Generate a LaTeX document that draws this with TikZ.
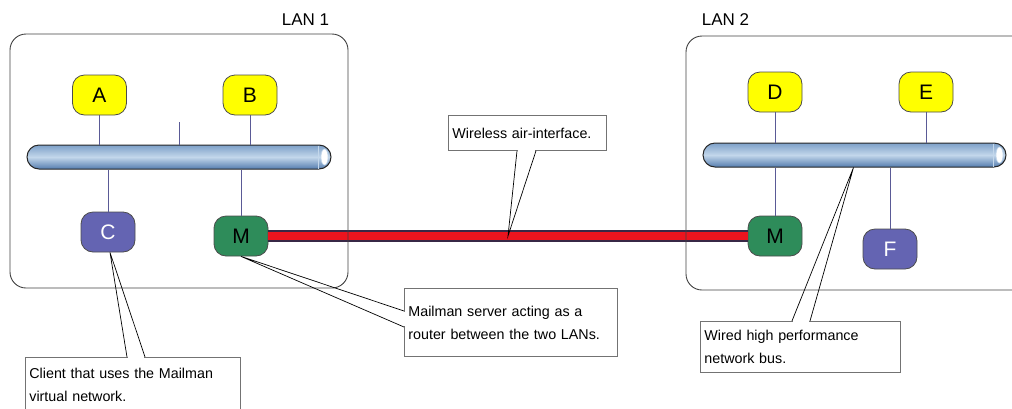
\documentclass[tikz,border=0pt]{standalone}
\usepackage{fontspec}
\setmainfont{Liberation Sans}
\usetikzlibrary{calc}

\definecolor{hostyellow}{RGB}{255,255,0}
\definecolor{clientblue}{RGB}{100,100,178}
\definecolor{mailgreen}{RGB}{46,140,90}
\definecolor{stubline}{RGB}{90,90,150}
\definecolor{linkred}{RGB}{235,20,30}
\definecolor{linkedge}{RGB}{55,40,70}
\definecolor{bustop}{RGB}{125,160,200}
\definecolor{busmid}{RGB}{195,215,235}
\definecolor{busbot}{RGB}{85,125,175}

\begin{document}
\begin{tikzpicture}[x=1pt,y=-1pt,
    lan/.style={draw=black!75,line width=0.9pt,rounded corners=16pt,minimum height=254pt,inner sep=0pt},
    lanlabel/.style={font=\fontsize{17}{17}\selectfont},
    host/.style={draw=black!70,line width=0.8pt,rounded corners=12pt,minimum width=54pt,minimum height=40pt,inner sep=0pt,font=\fontsize{21}{21}\selectfont},
    server/.style={host,fill=hostyellow},
    client/.style={host,fill=clientblue,text=white},
    mailman/.style={host,fill=mailgreen},
    bus/.style={draw=black!85,line width=1pt,rounded corners=12pt,minimum height=24pt,inner sep=0pt,top color=bustop,bottom color=busbot,middle color=busmid},
    stub/.style={stubline,line width=0.9pt},
    link/.style={draw=linkedge,line width=2.2pt,double=linkred,double distance=8pt},
    note/.style={draw=black!55,fill=white,line width=0.8pt,align=left,anchor=north west,inner xsep=4pt,inner ysep=0pt,font=\fontsize{14.3}{23}\selectfont},
    pointer/.style={black,line width=0.7pt}]
  \clip (0,0) rectangle (1012,408);

  % the two buses
  \node[bus,minimum width=304pt] (bus1) at (179,157) {};
  \node[bus,minimum width=303pt] (bus2) at (854.5,155) {};
  \foreach \b in {bus1,bus2} {
    \draw[busmid,line width=0.8pt] ($(\b.north east)+(-13,1)$) -- ($(\b.south east)+(-13,-1)$);
    \filldraw[fill=white,draw=busmid,line width=0.6pt] ($(\b.east)+(-7,0)$) ellipse (3.5 and 8);
  }

  % hosts
  \node[server]  (a)  at (99.5,95) {A};
  \node[server]  (b)  at (250,95)  {B};
  \node[client]  (c)  at (108,232) {C};
  \node[mailman] (m1) at (241,236) {M};
  \node[server]  (d)  at (775,92)  {D};
  \node[server]  (e)  at (926,92)  {E};
  \node[mailman] (m2) at (775,236) {M};
  \node[client]  (f)  at (890,249) {F};
  \coordinate (tick) at (179,122);

  \draw[stub] (a.south) -- (a.south |- bus1.north);
  \draw[stub] (b.south) -- (b.south |- bus1.north);
  \draw[stub] (tick) -- (tick |- bus1.north);
  \draw[stub] (c.north) -- (c.north |- bus1.south);
  \draw[stub] (m1.north) -- (m1.north |- bus1.south);
  \draw[stub] (d.south) -- (d.south |- bus2.north);
  \draw[stub] (e.south) -- (e.south |- bus2.north);
  \draw[stub] (m2.north) -- (m2.north |- bus2.south);
  \draw[stub] (f.north) -- (f.north |- bus2.south);

  % wireless link between the mailmen
  \draw[link] (m1.east) -- (m2.west) coordinate[pos=0.5] (wtip);

  % LANs
  \node[lan,minimum width=338pt] (lan1) at (179,161) {};
  \node[lan,minimum width=354pt] (lan2) at (863,163) {};
  \node[lanlabel] at ($(lan1.north east)+(-43,-14)$) {LAN 1};
  \node[lanlabel] at ($(lan2.north west)+(40,-16)$) {LAN 2};

  % notes
  \node[note,text width=150pt,minimum height=35pt] (wl) at (448,115) {Wireless air-interface.};
  \node[note,text width=207pt,minimum height=54pt] (cl) at (25,357) {Client that uses the Mailman\\virtual network.};
  \node[note,text width=205pt,minimum height=68pt] (ms) at (404,288) {Mailman server acting as a\\router between the two LANs.};
  \node[note,text width=192pt,minimum height=51pt] (wd) at (700,321) {Wired high performance\\network bus.};

  \coordinate (wl1) at ($(wl.south west)+(69,0)$);
  \coordinate (wl2) at ($(wl.south west)+(88,0)$);
  \coordinate (cl1) at ($(cl.north west)+(102,0)$);
  \coordinate (cl2) at ($(cl.north west)+(120,0)$);
  \coordinate (ms1) at ($(ms.north west)+(0,23)$);
  \coordinate (ms2) at ($(ms.north west)+(0,39)$);
  \coordinate (wd1) at ($(wd.north west)+(92,0)$);
  \coordinate (wd2) at ($(wd.north west)+(110,0)$);

  \foreach \p in {wl,cl,ms,wd}
    \draw[white,line width=1.6pt,shorten <=0.6pt,shorten >=0.6pt] (\p1) -- (\p2);
  \draw[pointer] (wl1) -- (wtip) -- (wl2);
  \draw[pointer] (cl1) -- ($(c.south)+(2,0)$) -- (cl2);
  \draw[pointer] (ms1) -- (m1.south) -- (ms2);
  \draw[pointer] (wd1) -- ($(bus2.south)+(-1,0)$) -- (wd2);
\end{tikzpicture}
\end{document}
